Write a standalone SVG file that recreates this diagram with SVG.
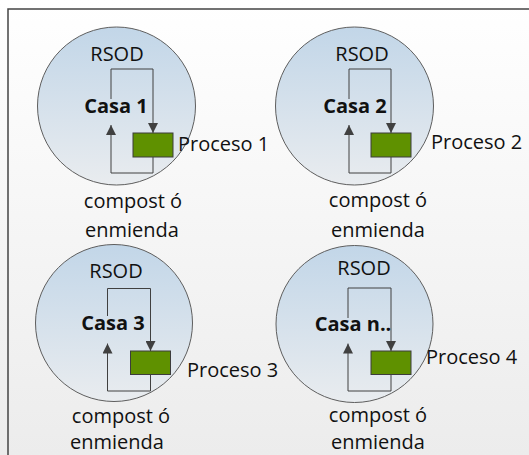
<svg xmlns="http://www.w3.org/2000/svg" width="529" height="455" viewBox="0 0 529 455">
  <defs>
    <linearGradient id="bg" x1="0" y1="0" x2="0" y2="1">
      <stop offset="0" stop-color="#ffffff"/>
      <stop offset="1" stop-color="#ececec"/>
    </linearGradient>
    <linearGradient id="disc" x1="0" y1="0" x2="0" y2="1">
      <stop offset="0" stop-color="#c2d6e8"/>
      <stop offset="1" stop-color="#e9ecef"/>
    </linearGradient>
    <marker id="arrow" viewBox="0 0 10 10" refX="10" refY="5" markerWidth="10" markerHeight="10" markerUnits="userSpaceOnUse" orient="auto">
      <path d="M0,0 L10,5 L0,10 z" fill="#404040"/>
    </marker>
    <style>
      .disc { fill: url(#disc); stroke: #5e5e5e; stroke-width: 1; }
      .proc { fill: #5f9100; stroke: #3c3c3c; stroke-width: 1; }
      .lbl { font-family: "Open Sans", "Liberation Sans", sans-serif; font-size: 20px; fill: #111111; }
      .mid { text-anchor: middle; }
      .casa { font-weight: bold; }
      .link { fill: none; stroke: #404040; stroke-width: 1; }
      .frame { fill: none; stroke: #444444; stroke-width: 1.5; }
    </style>
  </defs>

  <!-- page background and frame edges -->
  <rect x="0" y="0" width="529" height="455" fill="url(#bg)"/>
  <path class="frame" d="M8,455 V9 H529"/>

  <!-- household 1 -->
  <g id="casa1">
    <circle class="disc" cx="116.5" cy="106" r="79"/>
    <text class="lbl mid" x="117" y="61">RSOD</text>
    <rect class="proc" x="133" y="133" width="40" height="24"/>
  </g>

  <!-- household 2 -->
  <g id="casa2">
    <circle class="disc" cx="354.5" cy="106" r="79"/>
    <text class="lbl mid" x="362" y="61">RSOD</text>
    <rect class="proc" x="371" y="133" width="40" height="24"/>
  </g>

  <!-- household 3 -->
  <g id="casa3">
    <circle class="disc" cx="114" cy="323" r="78.5"/>
    <text class="lbl mid" x="116" y="278">RSOD</text>
    <rect class="proc" x="130.5" y="351" width="40" height="23.5"/>
  </g>

  <!-- household n -->
  <g id="casaN">
    <circle class="disc" cx="354.5" cy="324" r="78.5"/>
    <text class="lbl mid" x="364" y="275">RSOD</text>
    <rect class="proc" x="371" y="351" width="40" height="23.5"/>
  </g>

  <!-- waste in / compost out loops -->
  <g id="connectors">
    <path class="link" d="M111,99 V69 H153 V133" marker-end="url(#arrow)"/>
    <path class="link" d="M153,157 V173 H111 V125" marker-end="url(#arrow)"/>

    <path class="link" d="M349,99 V69 H391 V133" marker-end="url(#arrow)"/>
    <path class="link" d="M391,157 V173 H349 V125" marker-end="url(#arrow)"/>

    <path class="link" d="M107.5,316 V288.5 H150.5 V351" marker-end="url(#arrow)"/>
    <path class="link" d="M150.5,374.5 V391 H107.5 V343.5" marker-end="url(#arrow)"/>

    <path class="link" d="M348,318 V288 H391 V351" marker-end="url(#arrow)"/>
    <path class="link" d="M391,374.5 V391 H348 V343.5" marker-end="url(#arrow)"/>
  </g>

  <!-- labels drawn above the loops -->
  <g id="labels">
    <text class="lbl mid casa" x="116" y="113">Casa 1</text>
    <text class="lbl" x="178" y="151">Proceso 1</text>
    <text class="lbl mid" x="133" y="208">compost ó</text>
    <text class="lbl mid" x="132" y="237">enmienda</text>

    <text class="lbl mid casa" x="355" y="113">Casa 2</text>
    <text class="lbl" x="431" y="149">Proceso 2</text>
    <text class="lbl mid" x="378" y="207">compost ó</text>
    <text class="lbl mid" x="378" y="237">enmienda</text>

    <text class="lbl mid casa" x="113" y="330">Casa 3</text>
    <text class="lbl" x="187" y="377">Proceso 3</text>
    <text class="lbl mid" x="121" y="423">compost ó</text>
    <text class="lbl mid" x="117" y="449">enmienda</text>

    <text class="lbl mid casa" x="353" y="331">Casa n..</text>
    <text class="lbl" x="426" y="364">Proceso 4</text>
    <text class="lbl mid" x="378" y="422">compost ó</text>
    <text class="lbl mid" x="378" y="449">enmienda</text>
  </g>
</svg>
